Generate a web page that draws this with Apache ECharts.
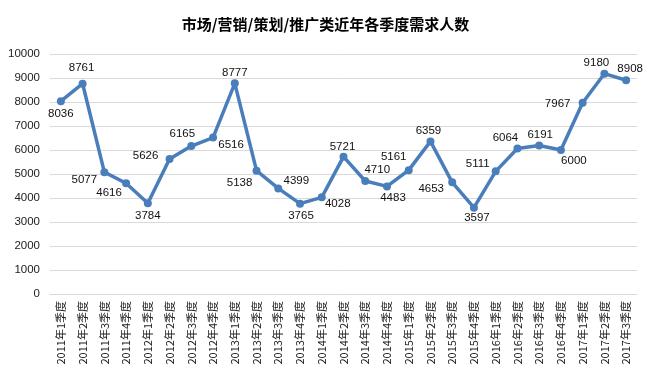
<!DOCTYPE html>
<html><head><meta charset="utf-8">
<script src="https://cdn.jsdelivr.net/npm/echarts@6/dist/echarts.min.js"></script>
<style>html,body{margin:0;padding:0;background:#fff}#c{width:651px;height:372px}</style>
</head><body><div id="c"></div>
<script>
const title = '市场/营销/策划/推广类近年各季度需求人数';
const categories = ['2011年1季度','2011年2季度','2011年3季度','2011年4季度','2012年1季度','2012年2季度','2012年3季度','2012年4季度','2013年1季度','2013年2季度','2013年3季度','2013年4季度','2014年1季度','2014年2季度','2014年3季度','2014年4季度','2015年1季度','2015年2季度','2015年3季度','2015年4季度','2016年1季度','2016年2季度','2016年3季度','2016年4季度','2017年1季度','2017年2季度','2017年3季度'];
const values = [8036,8761,5077,4616,3784,5626,6165,6516,8777,5138,4399,3765,4028,5721,4710,4483,5161,6359,4653,3597,5111,6064,6191,6000,7967,9180,8908];

// label placement (styling): offset of label centre from the point, in px
const labelOffsets = [
  [0,13],[-1,-16],[-20,8],[-17,10],[0,13],[-24,-3],[-9,-12],[18,7],[0,-11],
  [-17,12],[18,-8],[1,12],[16,7],[-1,-10],[12,-11],[6,11],[-15,-13],[-2,-11],
  [-21,7],[3,10],[-18,-8],[-12,-11],[1,-11],[13,11],[-25,1],[-8,-11],[4,-11]
];

const data = values.map((v,i)=>({value:v,label:{position:'inside',offset:labelOffsets[i]}}));

const chart = echarts.init(document.getElementById('c'), null, {renderer:'canvas'});
chart.setOption({
  animation:false,
  backgroundColor:'#fff',
  title:{text:title,left:'center',top:12,textStyle:{fontSize:15,fontWeight:'bold',color:'#000',fontFamily:'Noto Sans CJK SC'}},
  grid:{left:50,right:14,top:54,bottom:78,containLabel:false},
  xAxis:{type:'category',data:categories,boundaryGap:true,
    axisLine:{show:true,lineStyle:{color:'#d9d9d9'}},axisTick:{show:false},
    axisLabel:{rotate:90,interval:0,fontSize:11,color:'#222',margin:7,fontFamily:'Noto Sans CJK SC'}},
  yAxis:{type:'value',min:0,max:10000,interval:1000,
    axisLine:{show:false},axisTick:{show:false},
    splitLine:{lineStyle:{color:'#d9d9d9',width:1}},
    axisLabel:{fontSize:11.5,color:'#222',margin:10,fontFamily:'Liberation Sans',formatter:v=>String(v)}},
  series:[{type:'line',data:data,symbol:'circle',symbolSize:8,
    lineStyle:{color:'#4A7EBB',width:3.5},itemStyle:{color:'#4A7EBB'},
    label:{show:true,fontSize:11.5,color:'#111',fontFamily:'Liberation Sans',align:'center',verticalAlign:'middle'}}]
});
</script></body></html>
